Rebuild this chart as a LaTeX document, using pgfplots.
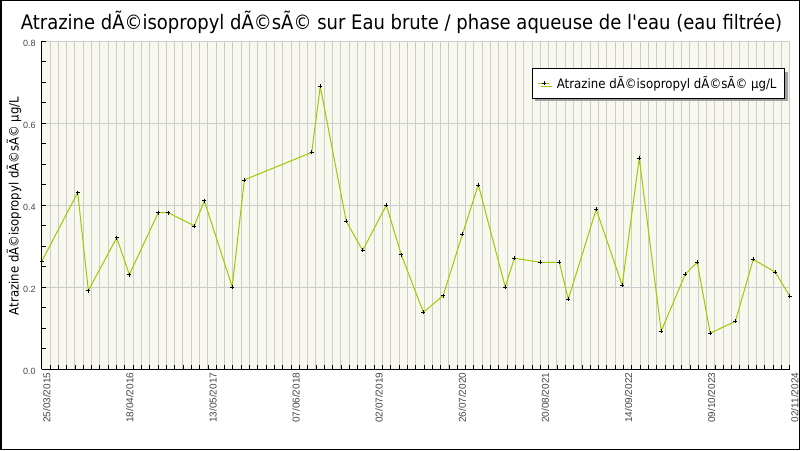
\documentclass[border=0pt]{standalone}
\usepackage{fontspec}
\setmainfont{DejaVu Sans Condensed}
\newfontfamily\tickfont{Liberation Sans}
\usepackage{pgfplots}
\pgfplotsset{compat=1.18}
\usetikzlibrary{shadows}

\definecolor{linegreen}{RGB}{153,204,0}
\definecolor{plotbg}{RGB}{248,248,238}
\definecolor{gridgray}{RGB}{204,204,204}
\definecolor{ticktext}{RGB}{70,70,70}

\begin{document}
\begin{tikzpicture}[x=1pt,y=1pt]
\path[use as bounding box] (0,0) rectangle (800,450);
\fill[white] (0,0) rectangle (800,450);

\node[font=\fontsize{20}{23}\selectfont] at (401.5,428) {Atrazine dÃ©isopropyl dÃ©sÃ© sur Eau brute / phase aqueuse de l\textquotesingle eau (eau filtrée)};
\node[font=\fontsize{13}{15}\selectfont, rotate=90] at (14,244) {Atrazine dÃ©isopropyl dÃ©sÃ© µg/L};

\begin{axis}[
    at={(41.7pt,80.7pt)}, anchor=south west,
    scale only axis, width=748pt, height=328pt,
    xmin=0, xmax=3510,
    ymin=0, ymax=0.8,
    axis x line=bottom, axis y line=left,
    axis line style={-, black, line width=1pt},
    axis background/.style={fill=plotbg},
    xtick={0,390,...,3510},
    xticklabels={25/03/2015,18/04/2016,13/05/2017,07/06/2018,02/07/2019,26/07/2020,20/08/2021,14/09/2022,09/10/2023,02/11/2024},
    minor x tick num=9,
    ytick={0,0.2,0.4,0.6,0.8},
    minor y tick num=3,
    /pgf/number format/fixed,
    /pgf/number format/fixed zerofill,
    /pgf/number format/precision=1,
    /pgf/number format/assume math mode=true,
    tick align=inside,
    major tick length=4pt, minor tick length=4pt,
    tick style={black, line width=0.8pt},
    xmajorgrids=true, xminorgrids=true, ymajorgrids=true,
    grid style={gridgray, line width=1pt},
    minor grid style={gridgray, line width=1pt},
    xticklabel style={rotate=90, anchor=east, yshift=-5pt, text=ticktext, font=\tickfont\fontsize{10}{11}\selectfont},
    yticklabel style={text=ticktext, font=\tickfont\fontsize{9}{10}\selectfont, xshift=-2.5pt, yshift=-2pt},
    legend style={at={(0.9937,0.918)}, anchor=north east, draw=black, fill=white,
        line width=0.8pt, font=\fontsize{13.1}{15}\selectfont,
        inner xsep=6pt, inner ysep=6pt,
        drop shadow={shadow xshift=3pt, shadow yshift=-3pt, fill=gray!75, opacity=1}},
    legend image code/.code={
        \draw[#1, mark repeat=2, mark phase=2] plot coordinates {(0pt,0pt) (5.5pt,0pt) (11pt,0pt)};},
]
\addplot[color=linegreen, line width=1pt, mark=+, mark size=2pt,
    mark options={black, line width=0.6pt, solid}]
coordinates {
(0,0.263) (169,0.431) (219,0.192) (352,0.321) (411,0.231)
(547,0.382) (594,0.382) (716,0.350) (763,0.411) (894,0.201)
(951,0.462) (1267,0.529) (1307,0.690) (1429,0.361) (1506,0.290)
(1617,0.400) (1687,0.280) (1791,0.139) (1884,0.180) (1974,0.329)
(2049,0.450) (2175,0.201) (2218,0.271) (2340,0.261) (2429,0.261)
(2471,0.171) (2602,0.390) (2724,0.205) (2804,0.515) (2907,0.093)
(3020,0.232) (3076,0.261) (3137,0.088) (3255,0.117) (3339,0.268)
(3442,0.237) (3510,0.179)
};
\addlegendentry{\hspace{5pt}Atrazine dÃ©isopropyl dÃ©sÃ© µg/L}
\end{axis}

\draw[black, line width=1.5pt] (0.75,0.75) rectangle (799.25,449.25);
\end{tikzpicture}
\end{document}
